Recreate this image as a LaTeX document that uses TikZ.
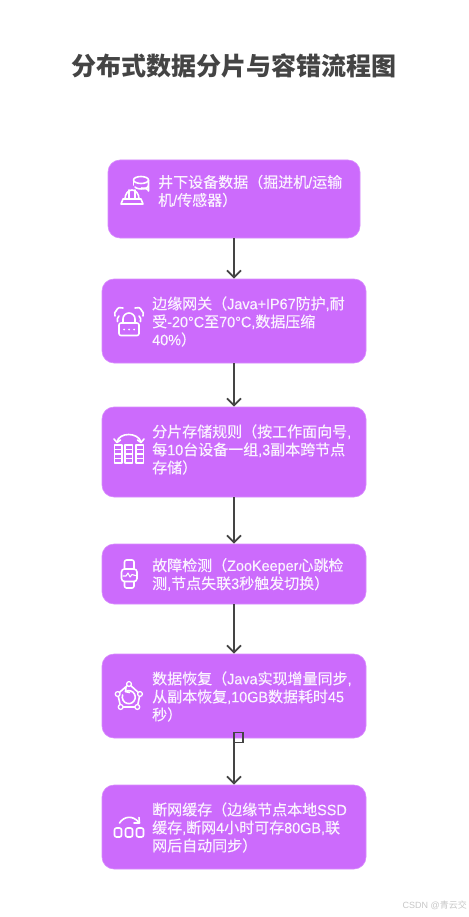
\documentclass[tikz,border=0pt]{standalone}
\usepackage{fontspec}
\setmainfont{Noto Sans CJK SC}
\newfontfamily\bodyfont[FakeBold=0.25]{Noto Sans CJK SC}
\newfontfamily\latfont[FakeBold=0.25,FakeStretch=0.96]{Liberation Sans}
\newfontfamily\plainlat{Liberation Sans}
\newcommand{\la}[1]{{\latfont #1}}
\usetikzlibrary{arrows.meta}
\definecolor{boxfill}{HTML}{CC6BFC}
\definecolor{boxedge}{HTML}{D88CFD}
\definecolor{ink}{HTML}{444444}
\definecolor{paper}{HTML}{FBF3FF}
\tikzset{
  procbox/.style={draw=boxedge,line width=0.6pt,fill=boxfill,rounded corners=12pt,inner sep=0pt,minimum height=#1},
  boxtext/.style={anchor=west,align=left,inner sep=0pt,text=paper,font=\bodyfont\fontsize{15pt}{18pt}\selectfont},
  flow/.style={draw=ink,line width=1.9pt,-{Straight Barb[length=7pt,width=14pt,line width=1.8pt]}},
  icon/.style={draw=white,line width=1.6pt,line cap=round,line join=round},
}
\begin{document}
\begin{tikzpicture}[x=1pt,y=-1pt]
\useasboundingbox (0,0) rectangle (468,917);
\fill[white] (0,0) rectangle (468,917);
\node[text=ink,font=\fontsize{25pt}{30pt}\selectfont\bfseries] (title) at (234,65.5) {分布式数据分片与容错流程图};
\node[procbox=78pt,minimum width=252pt] (b1) at (234,199) {};
\node[procbox=84pt,minimum width=264pt] (b2) at (234,321) {};
\node[procbox=90pt,minimum width=264pt] (b3) at (234,452) {};
\node[procbox=60pt,minimum width=264pt] (b4) at (234,574) {};
\node[procbox=84pt,minimum width=264pt] (b5) at (234,696) {};
\node[procbox=84pt,minimum width=264pt] (b6) at (234,827) {};
\node[boxtext] (t1) at (158,191) {井下设备数据（掘进机\la{/}运输\\机\la{/}传感器）};
\node[boxtext] (t2) at (152,321.5) {边缘网关（\la{Java+IP67}防护\la{,}耐\\受\la{-20°C}至\la{70°C,}数据压缩\\\la{40\%}）};
\node[boxtext] (t3) at (152,449.5) {分片存储规则（按工作面向号\la{,}\\每\la{10}台设备一组\la{,3}副本跨节点\\存储）};
\node[boxtext] (t4) at (152,574.5) {故障检测（\la{ZooKeeper}心跳检\\测\la{,}节点失联\la{3}秒触发切换）};
\node[boxtext] (t5) at (152,696.5) {数据恢复（\la{Java}实现增量同步\la{,}\\从副本恢复\la{,10GB}数据耗时\la{45}\\秒）};
\node[boxtext] (t6) at (152,827.5) {断网缓存（边缘节点本地\la{SSD}\\缓存\la{,}断网\la{4}小时可存\la{80GB,}联\\网后自动同步）};
\draw[flow] (b1) -- (b2);
\draw[flow] (b2) -- (b3);
\draw[flow] (b3) -- (b4);
\draw[flow] (b4) -- (b5);
\draw[flow] (b5) -- (b6);
\node[draw=ink,line width=1.7pt,inner sep=0pt,minimum width=9pt,minimum height=10pt] (sq) at (238.5,737.5) {};
% icon 1
\begin{scope}
\draw[icon] (141,180) ellipse (7.5pt and 3.5pt);
\draw[icon] (133.5,180) -- (133.5,185);
\draw[icon] (148.5,180) -- (148.5,191) arc (0:90:7pt and 3pt);
\draw[icon] (135,187) arc (200:360:6.8pt and 3pt);
\draw[icon] (125,199) arc (180:0:7pt and 9pt) ;
\draw[icon] (129,190) -- (129,199) (135,190) -- (135,199);
\draw[icon] (123,199) -- (141,199) -- (143,204) -- (121,204) -- cycle;
\end{scope}
% icon 2
\begin{scope}
\draw[icon,rounded corners=2pt] (119,323) rectangle (139,335.5);
\draw[icon] (123,323) -- (123,319) arc (180:0:6pt) -- (135,323);
\fill[white] (124,329.5) circle (1pt) (129,329.5) circle (1pt) (134,329.5) circle (1pt);
\draw[icon] (119,316) arc (130:200:5pt);
\draw[icon] (116,311) .. controls (118,307) and (120,307) .. (123,308);
\draw[icon] (115,316) .. controls (114,313) and (115,312) .. (116,311);
\draw[icon] (139,316) arc (50:-20:5pt);
\draw[icon] (142,311) .. controls (140,307) and (138,307) .. (135,308);
\draw[icon] (143,316) .. controls (144,313) and (143,312) .. (142,311);
\end{scope}
% icon 3
\begin{scope}
\foreach \cx in {114.5,125,136}{
  \draw[icon,line width=1.3pt] (\cx,445) rectangle ++(7.5,18);
  \foreach \ry in {449.5,454,458.5} \draw[icon,line width=1.3pt] (\cx,\ry) -- ++(7.5,0);
}
\draw[icon] (117,442) .. controls (119,432) and (138,432) .. (141,442);
\draw[icon] (114,439) -- (117,442.5) -- (120.5,440);
\draw[icon] (137.5,440) -- (141,442.5) -- (144,439);
\end{scope}
% icon 4
\begin{scope}
\draw[icon,rounded corners=3pt] (121.5,569) rectangle (137,581.5);
\draw[icon,rounded corners=2pt] (124.5,569) -- (124.5,560) -- (134,560) -- (134,569);
\draw[icon,rounded corners=2pt] (124.5,581.5) -- (124.5,588) -- (134,588) -- (134,581.5);
\draw[icon,line width=1.1pt] (123,576) -- (126,576) -- (128,573) -- (130,577) -- (132,574.5) -- (135.5,575.5);
\end{scope}
% icon 5
\begin{scope}
\draw[icon] (129,684) -- (117.7,694) -- (120.7,707) -- (137.3,707) -- (140,694) -- cycle;
\foreach \nx/\ny in {129/684,117.7/694,120.7/707,137.3/707,140/694}
  \draw[icon,fill=boxfill,line width=1.3pt] (\nx,\ny) circle (2.4pt);
\draw[icon] (125.5,691.5) arc (120:-200:6.5pt);
\draw[icon] (126,687.5) -- (125.5,691.5) -- (129.5,692.5);
\end{scope}
% icon 6
\begin{scope}
\foreach \cx in {114.5,125.5,136.5}
  \draw[icon,rounded corners=2pt] (\cx,828) rectangle ++(7,9);
\draw[icon] (119.5,823) .. controls (124,816) and (133,815) .. (139,822.5);
\draw[icon] (139,817.5) -- (139.5,823) -- (134,823);
\end{scope}
\node[text=black!22,font=\fontsize{9pt}{10pt}\selectfont,anchor=east,inner sep=0pt] (wm) at (467,905) {{\plainlat CSDN @}青云交};
\end{tikzpicture}
\end{document}
